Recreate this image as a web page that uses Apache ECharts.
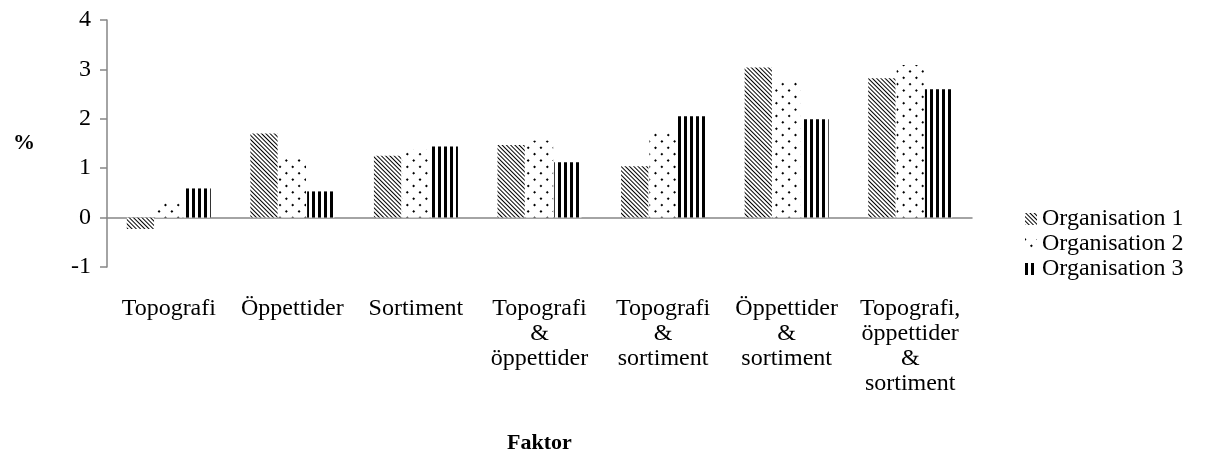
<!DOCTYPE html>
<html>
<head>
<meta charset="utf-8">
<script src="https://cdn.jsdelivr.net/npm/echarts@6/dist/echarts.min.js"></script>
<style>
  html, body { margin: 0; padding: 0; background: #fff; }
  #chart { width: 1209px; height: 463px; }
</style>
</head>
<body>
<div id="chart"></div>
<script>
// categories on the x axis
const categories = [
  "Topografi",
  "Öppettider",
  "Sortiment",
  "Topografi\n&\nöppettider",
  "Topografi\n&\nsortiment",
  "Öppettider\n&\nsortiment",
  "Topografi,\nöppettider\n&\nsortiment"
];

const seriesNames = ["Organisation 1", "Organisation 2", "Organisation 3"];

// values (%)
const org1 = [-0.23, 1.70, 1.25, 1.47, 1.04, 3.04, 2.82];
const org2 = [0.32, 1.23, 1.39, 1.56, 1.73, 2.75, 3.09];
const org3 = [0.59, 0.53, 1.44, 1.12, 2.05, 1.99, 2.60];

const yTicks = { min: -1, max: 4, interval: 1 };

const font = "'Liberation Serif', 'Times New Roman', serif";
const axisGray = "#868686";

// black-and-white fill patterns like the original print
const decals = [
  {
    // fine diagonal lines, top-left to bottom-right
    symbol: "rect",
    symbolSize: 1,
    color: "#000",
    dashArrayX: [0.9, 2],
    dashArrayY: [10, 0],
    rotation: -Math.PI / 4
  },
  {
    // staggered dots (a square grid turned 45 degrees)
    symbol: "rect",
    symbolSize: 1,
    color: "#000",
    dashArrayX: [2, 6.2],
    dashArrayY: [2, 6.2],
    rotation: Math.PI / 4
  },
  {
    // thick vertical stripes
    symbol: "rect",
    symbolSize: 1,
    color: "#000",
    dashArrayX: [3, 2.3],
    dashArrayY: [10, 0]
  }
];

const chart = echarts.init(document.getElementById("chart"));

const makeSeries = (name, data, i) => ({
  name: name,
  type: "bar",
  data: data,
  xAxisIndex: 0,
  barGap: "4%",
  barCategoryGap: "32%",
  itemStyle: { color: "#fff", decal: decals[i] },
  emphasis: { disabled: true }
});

const option = {
  animation: false,
  backgroundColor: "#fff",
  textStyle: { fontFamily: font, color: "#000" },
  grid: { left: 107, right: 237, top: 20, bottom: 196, containLabel: false },
  legend: {
    orient: "vertical",
    left: 1020,
    top: 202,
    itemWidth: 12,
    itemHeight: 12,
    itemGap: 1,
    icon: "rect",
    textStyle: { fontFamily: font, fontSize: 24, color: "#000" },
    data: seriesNames
  },
  xAxis: [
    {
      // the zero line
      type: "category",
      data: categories,
      axisLine: { onZero: true, lineStyle: { color: axisGray, width: 1.5 } },
      axisTick: { show: false },
      axisLabel: { show: false },
      splitLine: { show: false }
    },
    {
      // labels at the bottom of the plot
      type: "category",
      data: categories,
      position: "bottom",
      axisLine: { show: false, onZero: false },
      axisTick: { show: false },
      axisLabel: {
        interval: 0,
        margin: 29,
        fontFamily: font,
        fontSize: 24,
        lineHeight: 25,
        color: "#000"
      },
      name: "Faktor",
      nameLocation: "middle",
      nameGap: 165,
      nameTextStyle: { fontFamily: font, fontSize: 22, fontWeight: "bold", color: "#000" }
    }
  ],
  yAxis: {
    type: "value",
    min: yTicks.min,
    max: yTicks.max,
    interval: yTicks.interval,
    axisLine: { show: true, lineStyle: { color: axisGray, width: 1.5 } },
    axisTick: { show: true, length: 7, lineStyle: { color: axisGray, width: 1.5 } },
    splitLine: { show: false },
    axisLabel: { margin: 16, fontFamily: font, fontSize: 24, color: "#000" },
    name: "%",
    nameLocation: "middle",
    nameRotate: 0,
    nameGap: 72,
    nameTextStyle: { fontFamily: font, fontSize: 22, fontWeight: "bold", color: "#000" }
  },
  series: [
    makeSeries(seriesNames[0], org1, 0),
    makeSeries(seriesNames[1], org2, 1),
    makeSeries(seriesNames[2], org3, 2)
  ]
};

chart.setOption(option);
</script>
</body>
</html>
